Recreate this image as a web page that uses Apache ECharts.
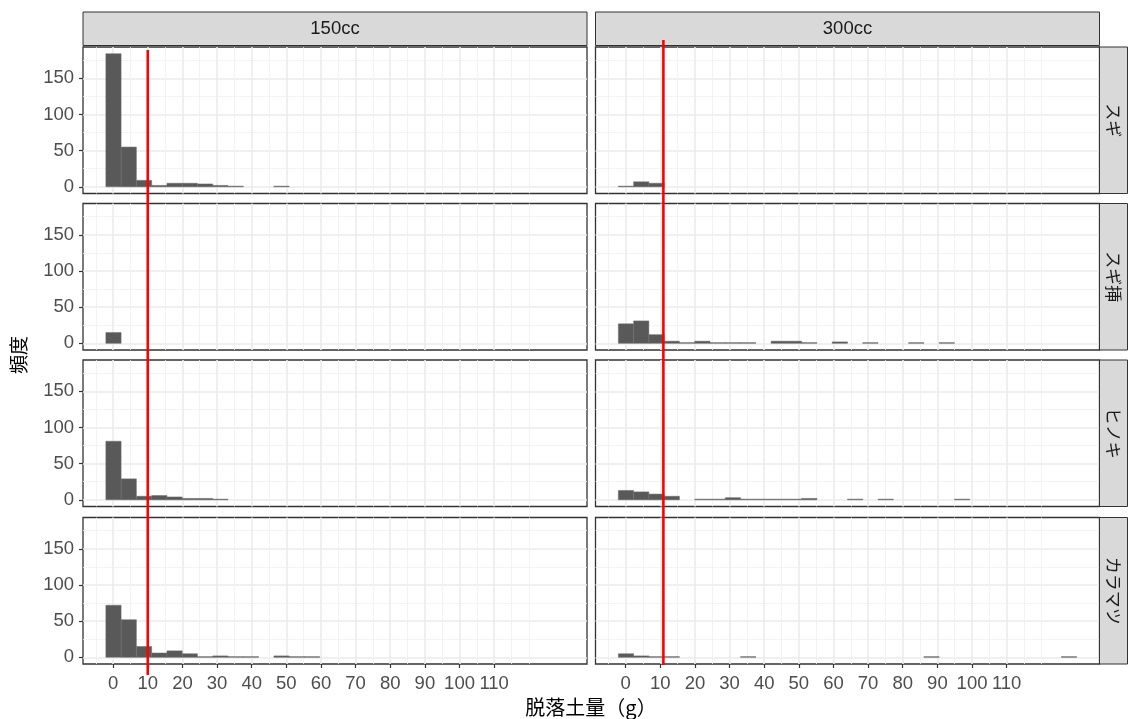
<!DOCTYPE html>
<html><head><meta charset="utf-8">
<script src="https://cdn.jsdelivr.net/npm/echarts@6/dist/echarts.min.js"></script>
<style>html,body{margin:0;padding:0;background:#fff}#c{width:1130px;height:719px}</style>
</head><body><div id="c"></div>
<script>
// ---- data ----
const columns = ['150cc', '300cc'];
const rows = ['スギ', 'スギ挿', 'ヒノキ', 'カラマツ'];
const binWidth = 4.41;
const binCenters = [0.1, 4.51, 8.92, 13.33, 17.74, 22.15, 26.56, 30.97, 35.38, 39.79,
  44.2, 48.61, 53.02, 57.43, 61.84, 66.25, 70.66, 75.07, 79.48, 83.89,
  88.3, 92.71, 97.12, 101.53, 105.94, 110.35, 114.76, 119.17, 123.58, 127.99];
const sugi150 = [184, 55, 9, 2, 5, 5, 4, 2, 1, 0, 0, 1];
const sugi300 = [1, 7, 5];
const sashi150 = [15];
const sashi300 = [27, 31, 12, 3, 1, 3, 1, 1, 1, 0, 3, 3, 1, 0, 2, 0, 1, 0, 0, 1, 0, 1];
const hinoki150 = [81, 29, 5, 6, 4, 2, 2, 1];
const hinoki300 = [13, 11, 8, 5, 0, 1, 1, 3, 1, 1, 1, 1, 2, 0, 0, 1, 0, 1, 0, 0, 0, 0, 1];
const karamatsu150 = [72, 52, 15, 6, 9, 5, 1, 2, 1, 1, 0, 2, 1, 1];
const karamatsu300 = [5, 2, 1, 1, 0, 0, 0, 0, 1, 0, 0, 0, 0, 0, 0, 0, 0, 0, 0, 0, 1, 0, 0, 0, 0, 0, 0, 0, 0, 1];
const panelCounts = [[sugi150, sugi300], [sashi150, sashi300], [hinoki150, hinoki300], [karamatsu150, karamatsu300]];
const xTicks = [0, 10, 20, 30, 40, 50, 60, 70, 80, 90, 100, 110];
const xMinor = [-5, 5, 15, 25, 35, 45, 55, 65, 75, 85, 95, 105, 115, 120];
const yTicks = [0, 50, 100, 150];
const yMinor = [25, 75, 125, 175];
const thresholds = [10, 10.9];
const xTitle = '脱落土量（g）';
const yTitle = '頻度';

// ---- layout ----
const X_MIN = -8.7, X_MAX = 136.8, Y_MIN = -9.2, Y_MAX = 193.2;
const colLeft = [83, 595.5], colWidth = 504;
const rowTop = [47, 203.5, 360, 517.5], rowHeight = 146.5;
const FONT = '"Liberation Sans", "Noto Sans CJK JP", sans-serif';
const JFONT = '"Noto Sans CJK JP", "Liberation Sans", sans-serif';

const grids = [], xAxes = [], yAxes = [], series = [], graphics = [];

for (let r = 0; r < 4; r++) {
  for (let c = 0; c < 2; c++) {
    const g = grids.length;
    grids.push({left: colLeft[c], top: rowTop[r], width: colWidth, height: rowHeight,
      show: true, borderColor: '#333333', borderWidth: 1.3, backgroundColor: '#ffffff'});
    const bottomRow = r === 3, leftCol = c === 0;
    xAxes.push({type: 'value', gridIndex: g, min: X_MIN, max: X_MAX, position: 'bottom',
      axisLine: {show: false, onZero: false},
      axisTick: {show: bottomRow, customValues: xTicks, length: 4, lineStyle: {color: '#333333', width: 1.2}},
      axisLabel: {show: bottomRow, customValues: xTicks, fontSize: 18.5, color: '#4D4D4D', margin: 11, fontFamily: FONT},
      splitLine: {show: true, lineStyle: {color: '#EBEBEB', width: 1.6}}});
    xAxes.push({type: 'value', gridIndex: g, min: X_MIN, max: X_MAX, position: 'bottom',
      axisLine: {show: false, onZero: false},
      axisTick: {show: false, customValues: xMinor},
      axisLabel: {show: false, customValues: xMinor},
      splitLine: {show: true, lineStyle: {color: '#F0F0F0', width: 0.8}}});
    yAxes.push({type: 'value', gridIndex: g, min: Y_MIN, max: Y_MAX, position: 'left',
      axisLine: {show: false, onZero: false},
      axisTick: {show: leftCol, customValues: yTicks, length: 4, lineStyle: {color: '#333333', width: 1.2}},
      axisLabel: {show: leftCol, customValues: yTicks, fontSize: 18.5, color: '#4D4D4D', margin: 9, fontFamily: FONT},
      splitLine: {show: true, lineStyle: {color: '#EBEBEB', width: 1.6}}});
    yAxes.push({type: 'value', gridIndex: g, min: Y_MIN, max: Y_MAX, position: 'left',
      axisLine: {show: false, onZero: false},
      axisTick: {show: false, customValues: yMinor},
      axisLabel: {show: false, customValues: yMinor},
      splitLine: {show: true, lineStyle: {color: '#F0F0F0', width: 0.8}}});
    const arr = panelCounts[r][c];
    const data = [];
    for (let i = 0; i < arr.length; i++) if (arr[i] > 0) data.push([binCenters[i], arr[i]]);
    series.push({type: 'custom', xAxisIndex: 2 * g, yAxisIndex: 2 * g, data: data, z: 5,
      renderItem: function (params, api) {
        const cx = api.value(0), v = api.value(1);
        const p0 = api.coord([cx - binWidth / 2, v]);
        const p1 = api.coord([cx + binWidth / 2, 0]);
        return {type: 'rect', shape: {x: p0[0], y: p0[1], width: p1[0] - p0[0], height: p1[1] - p0[1]},
          style: {fill: '#595959', stroke: '#707070', lineWidth: 0.5}};
      }});
  }
}

// red threshold lines spanning all rows
const redTop = [50, 40], redBottom = [675, 665];
for (let c = 0; c < 2; c++) {
  const g = grids.length;
  grids.push({left: colLeft[c], width: colWidth, top: redTop[c], height: redBottom[c] - redTop[c], show: false});
  xAxes.push({type: 'value', gridIndex: g, min: X_MIN, max: X_MAX, show: false});
  yAxes.push({type: 'value', gridIndex: g, min: 0, max: 1, show: false});
  series.push({type: 'line', xAxisIndex: xAxes.length - 1, yAxisIndex: yAxes.length - 1,
    data: [[thresholds[c], 0], [thresholds[c], 1]], symbol: 'none', z: 20,
    lineStyle: {color: '#FF0000', width: 2.6}});
}

// strips
for (let c = 0; c < 2; c++) {
  graphics.push({type: 'rect', shape: {x: colLeft[c], y: 12, width: colWidth, height: 33.5},
    style: {fill: '#D9D9D9', stroke: '#333333', lineWidth: 1}, z: 1});
  graphics.push({type: 'text', x: colLeft[c] + colWidth / 2, y: 29, z: 2,
    style: {text: columns[c], font: '18.5px ' + FONT, fill: '#1A1A1A', textAlign: 'center', textVerticalAlign: 'middle'}});
}
for (let r = 0; r < 4; r++) {
  graphics.push({type: 'rect', shape: {x: colLeft[1] + colWidth, y: rowTop[r], width: 28, height: rowHeight},
    style: {fill: '#D9D9D9', stroke: '#333333', lineWidth: 1}, z: 1});
  graphics.push({type: 'text', x: colLeft[1] + colWidth + 14, y: rowTop[r] + rowHeight / 2, rotation: -Math.PI / 2, z: 2,
    style: {text: rows[r], font: '17px ' + JFONT, fill: '#1A1A1A', textAlign: 'center', textVerticalAlign: 'middle'}});
}
graphics.push({type: 'text', x: 591, y: 707, z: 2,
  style: {text: xTitle, font: '20px ' + JFONT, fill: '#000000', textAlign: 'center', textVerticalAlign: 'middle'}});
graphics.push({type: 'text', x: 19, y: 355, rotation: Math.PI / 2, z: 2,
  style: {text: yTitle, font: '19px ' + JFONT, fill: '#000000', textAlign: 'center', textVerticalAlign: 'middle'}});

const chart = echarts.init(document.getElementById('c'), null, {renderer: 'canvas'});
chart.setOption({animation: false, backgroundColor: '#ffffff', grid: grids, xAxis: xAxes, yAxis: yAxes,
  series: series, graphic: graphics});
</script></body></html>
